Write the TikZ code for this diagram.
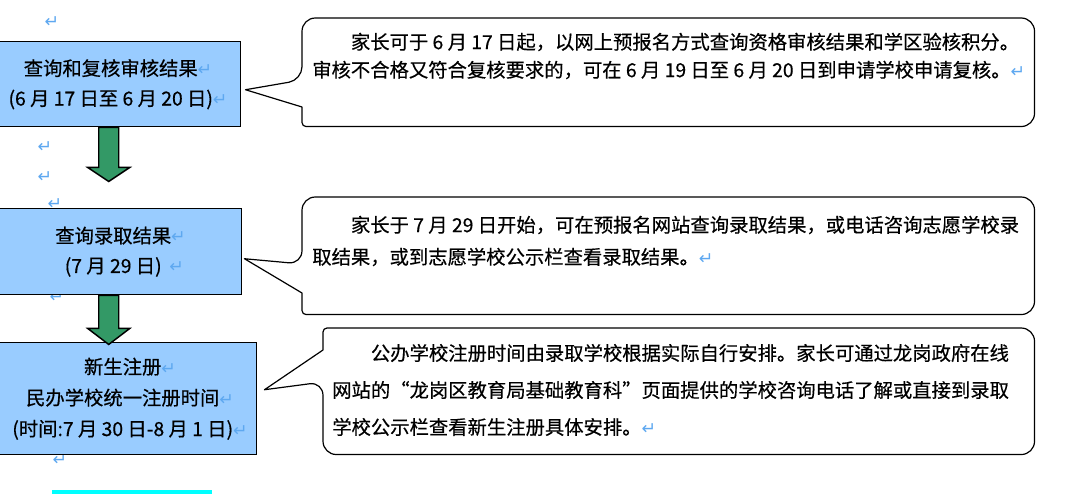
\documentclass[tikz,border=0pt]{standalone}
\usepackage{fontspec}
\setmainfont{Noto Sans CJK SC}[FakeBold=0.5]
\newfontfamily\symfont{DejaVu Sans}
\usepackage{tikz}
\usetikzlibrary{calc}
\definecolor{stagefill}{HTML}{99CCFF}
\definecolor{flowgreen}{HTML}{339966}
\definecolor{retblue}{HTML}{5EA8F0}
\definecolor{rulecyan}{HTML}{00FFFF}
\newcommand\retmk{{\symfont\fontsize{13pt}{13pt}\selectfont\color{retblue}↵}}

\begin{document}
\begin{tikzpicture}[
x=0.75pt, y=-0.75pt,
stage/.style={draw=black, line width=1.1pt, fill=stagefill, align=center, inner sep=0pt, anchor=north west, font=\fontsize{14.5pt}{22.5pt}\selectfont},
frame/.style={draw=none, inner sep=0pt, anchor=north west},
notetext/.style={anchor=west, align=left, inner sep=0pt},
noteline/.style={draw=black, line width=0.9pt, line join=round},
flow/.style={draw=black, line width=1.1pt, fill=flowgreen, line join=miter},
retnode/.style={inner sep=0pt}
]
\useasboundingbox (0,0) rectangle (1080,495);
\foreach \x/\y [count=\i] in {52/22, 45/147, 45/177, 55/204, 57/297, 60/460}
  \node[retnode] (r\i) at (\x,\y) {\retmk};

\node[stage, minimum width=195pt, minimum height=63.75pt] (s1) at (-20,41) {查询和复核审核结果\rlap{\retmk}\\(6 月 17 日至 6 月 20 日)\rlap{\retmk}};
\node[stage, minimum width=192.75pt, minimum height=64.5pt] (s2) at (-16,208) {查询录取结果\rlap{\retmk}\\(7 月 29 日)\rlap{\hspace{0.4em}\retmk}};
\node[stage, minimum width=201pt, minimum height=84pt, font=\fontsize{14.5pt}{23.25pt}\selectfont] (s3) at (-12,342) {新生注册\rlap{\retmk}\\民办学校统一注册时间\rlap{\retmk}\\(时间:7 月 30 日-8 月 1 日)\rlap{\retmk}};

\draw[flow] ($(s1.south)+(-12,0)$) -- ++(0,40) -- ++(-11,0) -- ++(21,14) -- ++(21,-14) -- ++(-11,0) -- ++(0,-40) -- cycle;
\draw[flow] ($(s2.south)+(-14.5,0)$) -- ++(0,33) -- ++(-11,0) -- ++(21,16) -- ++(21,-16) -- ++(-11,0) -- ++(0,-33) -- cycle;

\node[frame, minimum width=549pt, minimum height=81pt] (n1) at (302,18) {};
\node[notetext, font=\fontsize{14.5pt}{21pt}\selectfont] (t1) at (312,56) {\hspace*{2em}家长可于 6 月 17 日起，以网上预报名方式查询资格审核结果和学区验核积分。\\审核不合格又符合复核要求的，可在 6 月 19 日至 6 月 20 日到申请学校申请复核。\retmk};
\coordinate (p1) at ($(s1.east)+(4,5.5)$);
\coordinate (u1) at ($(n1.north west)+(0,62)$);
\coordinate (l1) at ($(n1.north west)+(0,89)$);
\draw[noteline] (u1) -- (p1) -- (l1) [rounded corners=3pt] -- (n1.south west) [rounded corners=10pt] -- (n1.south east) -- (n1.north east) -- (n1.north west) -- cycle;

\node[frame, minimum width=549pt, minimum height=87.75pt] (n2) at (302,197) {};
\node[notetext, font=\fontsize{14.5pt}{24pt}\selectfont] (t2) at (312,241) {\hspace*{2em}家长于 7 月 29 日开始，可在预报名网站查询录取结果，或电话咨询志愿学校录\\取结果，或到志愿学校公示栏查看录取结果。\retmk};
\coordinate (p2) at ($(s2.east)+(2,7)$);
\coordinate (u2) at ($(n2.north west)+(0,67)$);
\coordinate (l2) at ($(n2.north west)+(0,96)$);
\draw[noteline] (u2) -- (p2) -- (l2) [rounded corners=3pt] -- (n2.south west) [rounded corners=10pt] -- (n2.south east) -- (n2.north east) -- (n2.north west) -- cycle;

\node[frame, minimum width=533.25pt, minimum height=94.5pt] (n3) at (323,328) {};
\node[notetext, font=\fontsize{14.5pt}{27.75pt}\selectfont] (t3) at (332,390) {\hspace*{2em}公办学校注册时间由录取学校根据实际自行安排。家长可通过龙岗政府在线\\网站的“龙岗区教育局基础教育科”页面提供的学校咨询电话了解或直接到录取\\学校公示栏查看新生注册具体安排。\retmk};
\coordinate (p3) at ($(s3.east)+(7,-9)$);
\coordinate (u3) at ($(n3.north west)+(0,22)$);
\coordinate (l3) at ($(n3.north west)+(0,54)$);
\draw[noteline] (l3) -- (p3) -- (u3) [rounded corners=3pt] -- (n3.north west) [rounded corners=10pt] -- (n3.north east) -- (n3.south east) -- (n3.south west) -- cycle;

\draw[rulecyan, line width=2.4pt] (52,492) -- (212,492);
\end{tikzpicture}
\end{document}
